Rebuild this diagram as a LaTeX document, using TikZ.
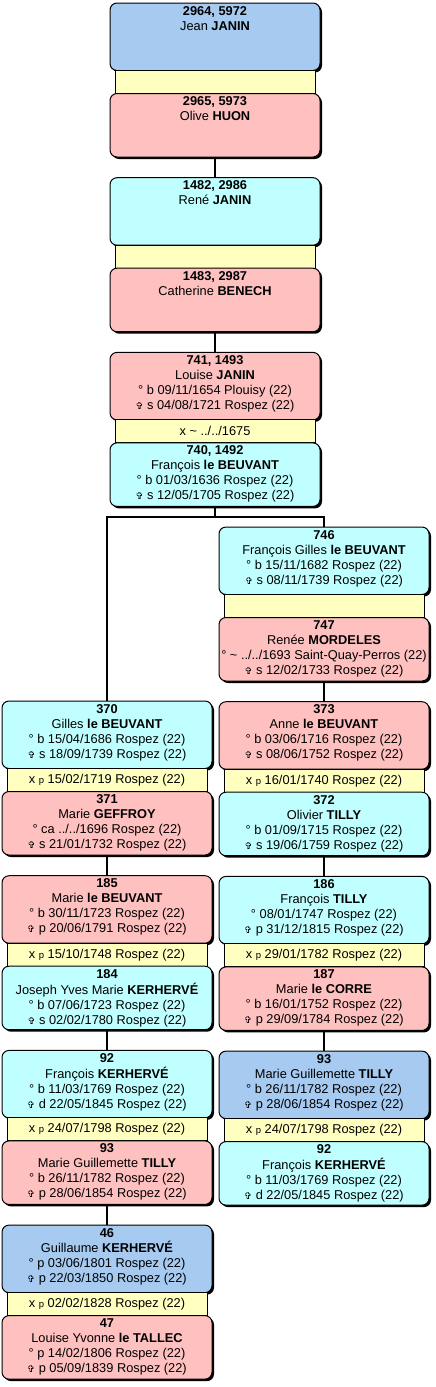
\documentclass[tikz,border=0pt]{standalone}
\usepackage{fontspec}
\setmainfont{Liberation Sans}
\newfontfamily\crossfont{DejaVu Sans}
\usetikzlibrary{positioning,shadows,calc}
\definecolor{GenBlue}{HTML}{A6CAF0}
\definecolor{GenCyan}{HTML}{C0FFFF}
\definecolor{GenPink}{HTML}{FFC0C0}
\definecolor{GenYellow}{HTML}{FFFFC0}
\newcommand{\dcross}{{\crossfont\fontsize{9.5}{15}\selectfont ✞}}
\newcommand{\xp}{x {\fontsize{9.5}{15}\selectfont p}}
\newcommand{\card}[1]{\begin{tabular}[t]{@{}c@{}}#1\end{tabular}}

\begin{document}
\begin{tikzpicture}[
  x=1pt, y=-1pt,
  every node/.style={font=\fontsize{12.8}{15}\selectfont},
  person/.style={draw, line width=1pt, fill=#1, rounded corners=7pt, minimum width=210pt, inner xsep=0pt, inner ysep=3pt, outer sep=0pt, text height=9pt, drop shadow={shadow xshift=2pt, shadow yshift=-2pt, fill=black, opacity=1}},
  topbox/.style={person=#1, text depth=52.5pt},
  botbox/.style={person=#1, text depth=48.5pt},
  unionbar/.style={draw, line width=1pt, fill=GenYellow, minimum width=200pt, minimum height=23pt, inner sep=0pt, outer sep=0pt},
  link/.style={line width=2pt, color=black}
]
\useasboundingbox (0,0) rectangle (436,1387);

% main column
\node[topbox=GenBlue, anchor=north] (n2964) at (215,3) {\card{\textbf{2964, 5972}\\Jean \textbf{JANIN}}};
\node[unionbar, below=0pt of n2964] (u2964) {};
\node[botbox=GenPink, below=0pt of u2964] (n2965) {\card{\textbf{2965, 5973}\\Olive \textbf{HUON}}};

\node[topbox=GenCyan, below=20.7pt of n2965] (n1482) {\card{\textbf{1482, 2986}\\René \textbf{JANIN}}};
\node[unionbar, below=0pt of n1482] (u1482) {};
\node[botbox=GenPink, below=0pt of u1482] (n1483) {\card{\textbf{1483, 2987}\\Catherine \textbf{BENECH}}};

\node[topbox=GenPink, below=20.7pt of n1483] (n741) {\card{\textbf{741, 1493}\\Louise \textbf{JANIN}\\° b 09/11/1654 Plouisy (22)\\\dcross{} s 04/08/1721 Rospez (22)}};
\node[unionbar, below=0pt of n741] (u741) {x \textasciitilde{} ../../1675};
\node[botbox=GenCyan, below=0pt of u741] (n740) {\card{\textbf{740, 1492}\\François \textbf{le BEUVANT}\\° b 01/03/1636 Rospez (22)\\\dcross{} s 12/05/1705 Rospez (22)}};

% right branch
\node[topbox=GenCyan, anchor=north] (n746) at (324,527) {\card{\textbf{746}\\François Gilles \textbf{le BEUVANT}\\° b 15/11/1682 Rospez (22)\\\dcross{} s 08/11/1739 Rospez (22)}};
\node[unionbar, below=0pt of n746] (u746) {};
\node[botbox=GenPink, below=0pt of u746] (n747) {\card{\textbf{747}\\Renée \textbf{MORDELES}\\\makebox[0pt]{° \textasciitilde{} ../../1693 Saint-Quay-Perros (22)}\\\dcross{} s 12/02/1733 Rospez (22)}};

\node[topbox=GenPink, below=20.7pt of n747] (n373) {\card{\textbf{373}\\Anne \textbf{le BEUVANT}\\° b 03/06/1716 Rospez (22)\\\dcross{} s 08/06/1752 Rospez (22)}};
\node[unionbar, below=0pt of n373] (u373) {\xp{} 16/01/1740 Rospez (22)};
\node[botbox=GenCyan, below=0pt of u373] (n372) {\card{\textbf{372}\\Olivier \textbf{TILLY}\\° b 01/09/1715 Rospez (22)\\\dcross{} s 19/06/1759 Rospez (22)}};

\node[topbox=GenCyan, below=20.7pt of n372] (n186) {\card{\textbf{186}\\François \textbf{TILLY}\\° 08/01/1747 Rospez (22)\\\dcross{} p 31/12/1815 Rospez (22)}};
\node[unionbar, below=0pt of n186] (u186) {\xp{} 29/01/1782 Rospez (22)};
\node[botbox=GenPink, below=0pt of u186] (n187) {\card{\textbf{187}\\Marie \textbf{le CORRE}\\° b 16/01/1752 Rospez (22)\\\dcross{} p 29/09/1784 Rospez (22)}};

\node[topbox=GenBlue, below=20.7pt of n187] (n93b) {\card{\textbf{93}\\Marie Guillemette \textbf{TILLY}\\° b 26/11/1782 Rospez (22)\\\dcross{} p 28/06/1854 Rospez (22)}};
\node[unionbar, below=0pt of n93b] (u93b) {\xp{} 24/07/1798 Rospez (22)};
\node[botbox=GenCyan, below=0pt of u93b] (n92b) {\card{\textbf{92}\\François \textbf{KERHERVÉ}\\° b 11/03/1769 Rospez (22)\\\dcross{} d 22/05/1845 Rospez (22)}};

% left branch
\node[topbox=GenCyan, anchor=north] (n370) at (107,701) {\card{\textbf{370}\\Gilles \textbf{le BEUVANT}\\° b 15/04/1686 Rospez (22)\\\dcross{} s 18/09/1739 Rospez (22)}};
\node[unionbar, below=0pt of n370] (u370) {\xp{} 15/02/1719 Rospez (22)};
\node[botbox=GenPink, below=0pt of u370] (n371) {\card{\textbf{371}\\Marie \textbf{GEFFROY}\\° ca ../../1696 Rospez (22)\\\dcross{} s 21/01/1732 Rospez (22)}};

\node[topbox=GenPink, below=20.7pt of n371] (n185) {\card{\textbf{185}\\Marie \textbf{le BEUVANT}\\° b 30/11/1723 Rospez (22)\\\dcross{} p 20/06/1791 Rospez (22)}};
\node[unionbar, below=0pt of n185] (u185) {\xp{} 15/10/1748 Rospez (22)};
\node[botbox=GenCyan, below=0pt of u185] (n184) {\card{\textbf{184}\\Joseph Yves Marie \textbf{KERHERVÉ}\\° b 07/06/1723 Rospez (22)\\\dcross{} s 02/02/1780 Rospez (22)}};

\node[topbox=GenCyan, below=20.7pt of n184] (n92a) {\card{\textbf{92}\\François \textbf{KERHERVÉ}\\° b 11/03/1769 Rospez (22)\\\dcross{} d 22/05/1845 Rospez (22)}};
\node[unionbar, below=0pt of n92a] (u92a) {\xp{} 24/07/1798 Rospez (22)};
\node[botbox=GenPink, below=0pt of u92a] (n93a) {\card{\textbf{93}\\Marie Guillemette \textbf{TILLY}\\° b 26/11/1782 Rospez (22)\\\dcross{} p 28/06/1854 Rospez (22)}};

\node[topbox=GenBlue, below=20.7pt of n93a] (n46) {\card{\textbf{46}\\Guillaume \textbf{KERHERVÉ}\\° p 03/06/1801 Rospez (22)\\\dcross{} p 22/03/1850 Rospez (22)}};
\node[unionbar, below=0pt of n46] (u46) {\xp{} 02/02/1828 Rospez (22)};
\node[botbox=GenPink, below=0pt of u46] (n47) {\card{\textbf{47}\\Louise Yvonne \textbf{le TALLEC}\\° p 14/02/1806 Rospez (22)\\\dcross{} p 05/09/1839 Rospez (22)}};

% links
\draw[link] (n2965) -- (n1482);
\draw[link] (n1483) -- (n741);
\coordinate (fork) at ($(n740.south)+(0,11)$);
\draw[link] (n740.south) -- (fork) -| (n370.north);
\draw[link] (fork) -| (n746.north);
\draw[link] (n747) -- (n373);
\draw[link] (n372) -- (n186);
\draw[link] (n187) -- (n93b);
\draw[link] (n371) -- (n185);
\draw[link] (n184) -- (n92a);
\draw[link] (n93a) -- (n46);
\end{tikzpicture}
\end{document}
